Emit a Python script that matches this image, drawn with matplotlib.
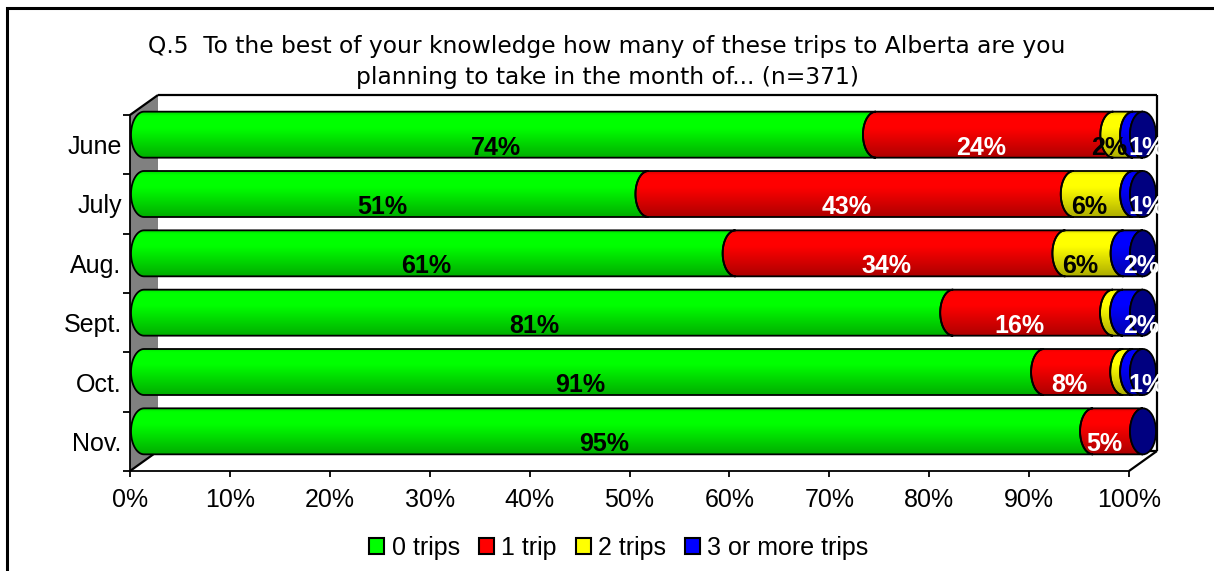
import numpy as np
import matplotlib.pyplot as plt
from matplotlib.patches import Polygon, Ellipse, Rectangle, Patch

# ---- data (percent of respondents, 100% stacked) ----
months = ["June", "July", "Aug.", "Sept.", "Oct.", "Nov."]
series = ["0 trips", "1 trip", "2 trips", "3 or more trips"]
zero_trips = [74, 51, 61, 81, 91, 95]
one_trip = [24, 43, 34, 16, 8, 5]
two_trips = [2, 6, 6, 1, 1, 0]
three_plus = [1, 1, 2, 2, 1, 0]
# labels Excel did not show (row, series)
hidden_labels = [(3, 2), (4, 2)]

title = ("Q.5  To the best of your knowledge how many of these trips to Alberta are you\n"
         "planning to take in the month of... (n=371)")

colors = ["#00FF00", "#FF0000", "#FFFF00", "#0000FF"]
cap_color = "#000080"
label_colors = ["black", "white", "black", "white"]

# ---- layout (pixels of a 1214x571 image) ----
W, H = 1214, 571
PX0, PX100 = 130, 1129          # front plane x of 0% and 100%
PYT, PYB = 115, 471             # front plane top / bottom
sx = (PX100 - PX0) / 100.0
sy = (PYB - PYT) / 6.0
ax_l, ax_r, ax_t, ax_b = 100, 1185, 80, 480

dx = 28 / sx     # depth offset
dy = 20 / sy
hx, hy = dx / 2, dy / 2
hh = 23 / sy     # half bar height
ea = 13 / sx     # ellipse half width

fig = plt.figure(figsize=(W / 100, H / 100), dpi=100)
ax = fig.add_axes([ax_l / W, 1 - ax_b / H, (ax_r - ax_l) / W, (ax_b - ax_t) / H])
ax.set_xlim((ax_l - PX0) / sx, (ax_r - PX0) / sx)
ax.set_ylim(5.5 + (ax_b - PYB) / sy, -0.5 - (PYT - ax_t) / sy)

font = "Liberation Sans"

# 3D frame
ax.add_patch(Polygon([(0, -0.5), (dx, -0.5 - dy), (dx, 5.5 - dy), (0, 5.5)],
                     closed=True, fc="#808080", ec="none", zorder=1))
frame_lines = [
    [(0, -0.5), (dx, -0.5 - dy)],
    [(dx, -0.5 - dy), (100 + dx, -0.5 - dy)],
    [(100 + dx, -0.5 - dy), (100 + dx, 5.5 - dy)],
    [(100, 5.5), (100 + dx, 5.5 - dy)],
    [(0, 5.5), (dx, 5.5 - dy)],
    [(dx, 5.5 - dy), (100 + dx, 5.5 - dy)],
]
for seg in frame_lines:
    xs, ys = zip(*seg)
    ax.plot(xs, ys, color="black", lw=1.6, zorder=2, solid_capstyle="butt")

tt = np.linspace(0, 1, 120)
shade = np.interp(tt, [0, 0.08, 0.35, 1.0], [0.85, 1.0, 1.0, 0.68])


def body(x0, x1, yc):
    t = np.linspace(np.pi / 2, 3 * np.pi / 2, 40)
    left = np.column_stack([x0 + ea * np.cos(t), yc - hh * np.sin(t)])
    right = np.column_stack([x1 + ea * np.cos(t[::-1]), yc - hh * np.sin(t[::-1])])
    return np.vstack([left, right])


data = np.array([zero_trips, one_trip, two_trips, three_plus], dtype=float).T
clip_rect = Rectangle((-10, -2), 10 + 100 + dx, 10, transform=ax.transData)

for i in range(len(months)):
    row = data[i]
    widths = row / row.sum() * 100
    starts = np.concatenate([[0], np.cumsum(widths)[:-1]])
    yc = i - hy
    for j in range(4):
        w = widths[j]
        x0, x1 = starts[j] + hx, starts[j] + w + hx
        if w > 0:
            poly = Polygon(body(x0, x1, yc), closed=True, fc="none", ec="black",
                           lw=1.3, zorder=4)
            ax.add_patch(poly)
            rgb = np.array(plt.matplotlib.colors.to_rgb(colors[j]))
            grad = (shade[:, None] * rgb[None, :])[:, None, :]
            im = ax.imshow(grad, extent=(x0 - ea - 0.5, x1 + 0.5, yc + hh, yc - hh),
                           aspect="auto", interpolation="bilinear", zorder=3)
            im.set_clip_path(poly)
        # labels
        if row[j] > 0 and (i, j) not in hidden_labels:
            lx = starts[j] + w / 2 + (2.2 if j == 3 else 0)
            txt = ax.text(lx, i + 0.05, "%d%%" % row[j], ha="center", va="center",
                          fontsize=18, fontweight="bold", color=label_colors[j],
                          family=font, zorder=7)
            txt.set_clip_path(clip_rect)
    end = 100 + hx
    ax.add_patch(Ellipse((end, yc), 2 * ea, 2 * hh, fc=cap_color, ec="black",
                         lw=1.3, zorder=5))

# axes
for s in ["top", "right"]:
    ax.spines[s].set_visible(False)
ax.spines["left"].set_position(("data", 0))
ax.spines["left"].set_bounds(-0.5, 5.5)
ax.spines["bottom"].set_position(("data", 5.5))
ax.spines["bottom"].set_bounds(0, 100)
for s in ["left", "bottom"]:
    ax.spines[s].set_linewidth(1.3)
    ax.spines[s].set_zorder(2.5)

ax.set_yticks(range(len(months)))
ax.set_yticklabels(months, family=font, fontsize=18)
ax.set_yticks(np.arange(-0.5, 6, 1), minor=True)
ax.tick_params(axis="y", which="major", length=0, pad=6)
ax.tick_params(axis="y", which="minor", length=5, width=1.3, direction="out")

ax.set_xticks(np.arange(0, 101, 10))
ax.set_xticklabels(["%d%%" % v for v in range(0, 101, 10)], family=font, fontsize=18)
ax.tick_params(axis="x", length=4, width=1.3, direction="out", pad=8)

fig.text(0.5, 1 - 62 / H, title, ha="center", va="center", fontsize=16.8,
         family="DejaVu Sans", linespacing=1.45)

handles = [Patch(fc=c, ec="black", lw=1.5) for c in colors]
fig.legend(handles, series, loc="center", bbox_to_anchor=(619 / W, 1 - 548 / H),
           ncol=4, frameon=False, handlelength=0.6, handleheight=0.6,
           handletextpad=0.3, columnspacing=0.75, prop={"family": font, "size": 18})

fig.add_artist(Rectangle((7 / W, -0.2), 1.5, 1 - 8 / H + 0.2, transform=fig.transFigure,
                         fill=False, ec="black", lw=2.2))

fig.savefig("out.png", dpi=100)
